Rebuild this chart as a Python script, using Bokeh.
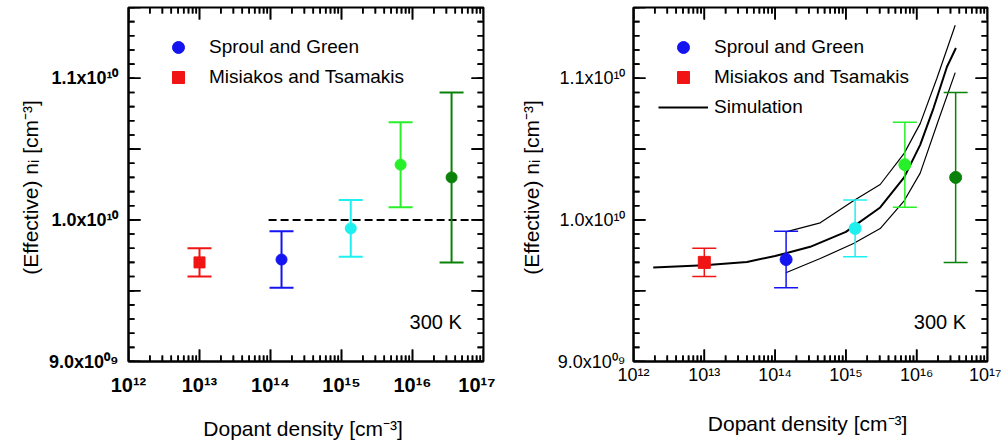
from bokeh.plotting import figure
from bokeh.models import (Legend, LegendItem, Label, Range1d, FixedTicker, Arrow,
                          ColumnDataSource)
from bokeh.layouts import row
from bokeh.embed import file_html
from bokeh.resources import INLINE

# ---------------- data ----------------
# Sproul and Green (circles)
sg_dopant = [1.43e14, 1.35e15, 6.8e15, 3.55e16]
sg_ni = [9.72e9, 9.94e9, 1.039e10, 1.030e10]
sg_err = [0.20e9, 0.20e9, 0.30e9, 0.60e9]
sg_colors = ["#1414f0", "#1ef0f0", "#28f028", "#0a820a"]

# Misiakos and Tsamakis (square)
mt_dopant = [1.0e13]
mt_ni = [9.70e9]
mt_err = [0.10e9]
mt_colors = ["#f01414"]

# dashed reference line (left panel)
ref_dopant = [9.4e13, 6.6e16]
ref_ni = [1.0e10, 1.0e10]

# simulation (right panel)
sim_mid_dopant = [1.9e12, 1.0e13, 4.0e13, 1.0e14, 1.42e14, 3.13e14, 1.0e15,
                  3.05e15, 6.65e15, 1.12e16, 1.73e16, 2.67e16, 3.58e16]
sim_mid_ni = [9.663e9, 9.68e9, 9.703e9, 9.745e9, 9.765e9, 9.81e9, 9.915e9,
              1.0088e10, 1.030e10, 1.053e10, 1.079e10, 1.108e10, 1.1214e10]
sim_up_dopant = [1.42e14, 4.34e14, 1.28e15, 3.05e15, 6.65e15, 1.12e16, 1.93e16, 3.5e16]
sim_up_ni = [9.916e9, 9.979e9, 1.0135e10, 1.025e10, 1.047e10, 1.068e10, 1.100e10, 1.1375e10]
sim_lo_dopant = [1.42e14, 4.34e14, 1.28e15, 3.05e15, 6.65e15, 1.12e16, 2.0e16, 3.5e16]
sim_lo_ni = [9.627e9, 9.727e9, 9.833e9, 9.939e9, 1.0135e10, 1.033e10, 1.0695e10, 1.104e10]

# ticks
x_tick_values = [1e12, 1e13, 1e14, 1e15, 1e16, 1e17]
x_tick_labels = ["10¹²", "10¹³", "10¹⁴", "10¹⁵", "10¹⁶", "10¹⁷"]
y_tick_values = [9.0e9, 9.5e9, 1.0e10, 1.05e10, 1.1e10, 1.15e10]
y_tick_labels = ["9.0x10⁰⁹", "", "1.0x10¹⁰", "", "1.1x10¹⁰", ""]
x_minor = [m * d for d in x_tick_values[:-1] for m in range(2, 10)]
y_minor = [9.0e9 + k * 1e8 for k in range(26)]

X_MIN, X_MAX = 1e12, 1e17
Y_MIN, Y_MAX = 9.0e9, 1.15e10
FONT = "Liberation Sans"
MAJOR_PX, MINOR_PX = 12, 6


def make_panel(width, height, bl, br, bt, bb, bold, tick_fs_x, tick_fs_y,
               x_standoff, x_title_standoff, y_standoff, y_title_standoff,
               lw_err, msize, simulation):
    p = figure(width=width, height=height, x_axis_type="log",
               x_range=Range1d(X_MIN, X_MAX), y_range=Range1d(Y_MIN, Y_MAX),
               output_backend="svg", toolbar_location=None,
               min_border_left=bl, min_border_right=br,
               min_border_top=bt, min_border_bottom=bb)
    p.grid.visible = False
    p.outline_line_color = "black"
    p.outline_line_width = 2
    p.background_fill_color = "white"
    p.border_fill_color = "white"
    style = "bold" if bold else "normal"

    for ax in (p.xaxis[0], p.yaxis[0]):
        ax.axis_line_width = 2
        ax.axis_line_color = "black"
        ax.major_tick_in = 0
        ax.major_tick_out = 0
        ax.minor_tick_in = 0
        ax.minor_tick_out = 0
        ax.major_label_text_font = FONT
        ax.major_label_text_font_style = style
        ax.major_label_text_color = "black"
        ax.axis_label_text_font = FONT
        ax.axis_label_text_font_size = "21px"
        ax.axis_label_text_font_style = "normal"
        ax.axis_label_text_color = "black"

    xa = p.xaxis[0]
    xa.ticker = FixedTicker(ticks=x_tick_values)
    xa.major_label_overrides = dict(zip(x_tick_values, x_tick_labels))
    xa.major_label_text_font_size = tick_fs_x
    xa.major_label_standoff = x_standoff
    xa.axis_label = "Dopant density  [cm⁻³]"
    xa.axis_label_standoff = x_title_standoff

    ya = p.yaxis[0]
    ya.ticker = FixedTicker(ticks=y_tick_values)
    ya.major_label_overrides = dict(zip(y_tick_values, y_tick_labels))
    ya.major_label_text_font_size = tick_fs_y
    ya.major_label_standoff = y_standoff
    ya.axis_label = "(Effective) nᵢ  [cm⁻³]"
    ya.axis_label_standoff = y_title_standoff

    # inward tick marks on all four sides; pixel lengths converted to data
    # units through the frame size
    frame_w = width - bl - br
    frame_h = height - bt - bb
    y_per_px = (Y_MAX - Y_MIN) / frame_h
    decades_per_px = 5.0 / frame_w
    tx0, ty0, tx1, ty1 = [], [], [], []
    for xs_t, px in ((x_tick_values, MAJOR_PX), (x_minor, MINOR_PX)):
        dy = px * y_per_px
        for xv in xs_t:
            tx0 += [xv, xv]
            tx1 += [xv, xv]
            ty0 += [Y_MIN, Y_MAX]
            ty1 += [Y_MIN + dy, Y_MAX - dy]
    for ys_t, px in ((y_tick_values, MAJOR_PX), (y_minor, MINOR_PX)):
        f = 10 ** (px * decades_per_px)
        for yv in ys_t:
            tx0 += [X_MIN, X_MAX]
            tx1 += [X_MIN * f, X_MAX / f]
            ty0 += [yv, yv]
            ty1 += [yv, yv]
    p.segment(x0=tx0, y0=ty0, x1=tx1, y1=ty1, line_color="black", line_width=1.6)
    tick_src = ColumnDataSource(dict(x0=tx0, y0=ty0, x1=tx1, y1=ty1))
    p.add_layout(Arrow(start=None, end=None, x_start="x0", y_start="y0",
                       x_end="x1", y_end="y1", source=tick_src,
                       line_color="black", line_width=1.6))

    r_sim = None
    if not simulation:
        p.line(ref_dopant, ref_ni, line_color="black", line_width=2, line_dash="8 4")
    else:
        p.line(sim_up_dopant, sim_up_ni, line_color="black", line_width=1.2)
        p.line(sim_lo_dopant, sim_lo_ni, line_color="black", line_width=1.2)
        r_sim = p.line(sim_mid_dopant, sim_mid_ni, line_color="black", line_width=2)

    # error bars
    all_x = mt_dopant + sg_dopant
    all_y = mt_ni + sg_ni
    all_e = mt_err + sg_err
    all_c = mt_colors + sg_colors
    lo = [y - e for y, e in zip(all_y, all_e)]
    hi = [y + e for y, e in zip(all_y, all_e)]
    p.segment(x0=all_x, y0=lo, x1=all_x, y1=hi, line_color=all_c, line_width=lw_err)
    p.scatter(x=all_x + all_x, y=lo + hi, marker="dash", size=24,
              line_color=all_c + all_c, line_width=lw_err)

    r_sg = p.scatter(x=sg_dopant, y=sg_ni, marker="circle", size=msize,
                     fill_color=sg_colors, line_color=sg_colors)
    r_mt = p.scatter(x=mt_dopant, y=mt_ni, marker="square", size=msize,
                     fill_color=mt_colors, line_color=mt_colors)

    items = [LegendItem(label="Sproul and Green", renderers=[r_sg], index=0),
             LegendItem(label="Misiakos and Tsamakis", renderers=[r_mt], index=0)]
    if simulation:
        items.append(LegendItem(label="Simulation", renderers=[r_sim]))
    leg = Legend(items=items, location="top_left", margin=25, padding=0,
                 glyph_width=50, glyph_height=30, label_height=20, spacing=-7,
                 label_standoff=6, label_text_font=FONT, label_text_font_size="19px",
                 label_text_color="black", border_line_color=None,
                 background_fill_alpha=0)
    p.add_layout(leg)

    p.add_layout(Label(x=9.1e15, y=9.28e9, text="300 K", text_font=FONT,
                       text_font_size="20px", text_baseline="middle",
                       text_color="black"))
    return p


# frames: left x 128..483, right x 633..987, both y 7..361
p1 = make_panel(495, 444, 128, 12, 7, 83, True, "20px", "18px", 12, 18, 10, 4,
                2, 11, False)
p2 = make_panel(506, 444, 138, 14, 7, 83, False, "18px", "18px", 3, 24, 8, 12,
                1.5, 12, True)

layout = row(p1, p2)
open("out.html", "w").write(file_html(layout, INLINE))
